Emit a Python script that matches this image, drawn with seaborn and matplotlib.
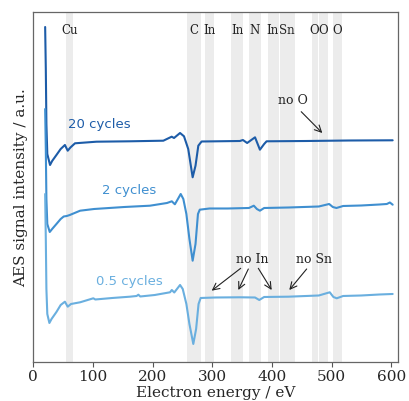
import matplotlib
matplotlib.use("Agg")
import matplotlib.pyplot as plt
import seaborn as sns
import pandas as pd

# ---- data ----
energy_20 = [19.8, 20.9, 21.9, 23.4, 28.0, 31.5, 38.7, 45.8, 52.9, 57.6, 62.1, 69.8, 105.8, 161.8, 217.8,
             231.8, 235.7, 245.8, 252.4, 259.5, 266.9, 271.7, 276.4, 281.9, 346.0, 351.1, 358.2, 371.4,
             379.6, 386.7, 390.8, 457.9, 529.2, 602.0]
signal_20 = [334.7, 292.7, 237.7, 207.7, 196.7, 200.7, 206.7, 212.7, 216.7, 211, 214.2, 218.4, 220, 220.4,
             221, 225, 223.7, 228.7, 225.4, 212.7, 184.4, 196, 216, 220.2, 220.7, 221.7, 218.7, 224.4, 212,
             217.7, 220.4, 220.7, 221.2, 221.4]

energy_2 = [19.8, 20.9, 21.9, 23.4, 27.5, 31.5, 38.7, 45.8, 50.9, 56.0, 61.1, 78.4, 101.8, 152.6, 195.4,
            223.9, 232.0, 237.1, 242.2, 246.9, 251.3, 256.4, 261.5, 266.9, 271.7, 275.8, 278.8, 295.1,
            325.6, 361.2, 369.4, 374.5, 379.6, 386.7, 427.4, 478.3, 495.6, 501.7, 507.8, 519.0, 549.5,
            580.0, 592.2, 597.3, 602.0]
signal_2 = [252.7, 212.7, 162.7, 137.7, 129.7, 132.7, 137.7, 142.7, 145.2, 145.7, 146.7, 151, 152.7, 154.7,
            156, 158.7, 160.4, 157.4, 162.7, 167.7, 162.7, 147.7, 122.7, 101, 117.7, 147.7, 152, 153.2, 153.2,
            153.7, 156, 152.7, 151, 153.7, 154.2, 155.2, 157.7, 154.7, 153.7, 155.7, 156.2, 157.2, 157.7,
            159.2, 157]

energy_05 = [19.8, 20.9, 21.9, 23.4, 26.9, 30.5, 38.7, 45.8, 52.9, 57.6, 63.1, 78.4, 100.5, 103.8, 132.3,
             161.8, 173.0, 176.0, 179.1, 203.5, 229.0, 232.0, 236.1, 245.8, 250.3, 256.4, 261.5, 268.0,
             272.7, 276.8, 280.3, 305.3, 346.0, 371.4, 378.5, 386.7, 427.4, 478.3, 496.6, 502.7, 508.3,
             519.0, 549.5, 580.0, 602.0]
signal_05 = [167.7, 122.7, 72.7, 47.7, 38.7, 42.7, 49.7, 56.7, 60, 55, 57.7, 59.4, 63.4, 62.2, 63.7, 65, 65.7,
             67, 65.2, 66.7, 69.4, 71.7, 69.2, 76.7, 72.7, 57.7, 37.7, 17.7, 32.7, 57.7, 63.7, 64.2, 64.4,
             64.2, 61.7, 64.7, 65, 66.2, 69.4, 64.7, 63.4, 65.7, 66.2, 67.2, 67.7]

series_names = ["20 cycles", "2 cycles", "0.5 cycles"]

band_lo = [53.9, 257.5, 288.0, 330.7, 361.2, 392.8, 413.1, 466.1, 479.3, 501.7]
band_hi = [66.1, 280.9, 302.2, 351.1, 380.6, 411.1, 437.6, 476.2, 493.5, 516.9]

element_labels = ["Cu", "C", "In", "In", "N", "In", "Sn", "O", "O", "O"]
element_pos = [60.0, 269.7, 295.1, 341.5, 371.4, 400.9, 424.3, 471.2, 486.4, 508.8]

xticks = [0, 100, 200, 300, 400, 500, 600]

# ---- style ----
sns.set_theme(style="white")
plt.rcParams["font.family"] = ["DejaVu Serif"]

colors = {"20 cycles": "#1d5ca8", "2 cycles": "#3f8fd0", "0.5 cycles": "#6aafdf"}

frames = []
for name, e, s in zip(series_names, [energy_20, energy_2, energy_05], [signal_20, signal_2, signal_05]):
    frames.append(pd.DataFrame({"energy": e, "signal": s, "series": name}))
df = pd.concat(frames, ignore_index=True)

fig = plt.figure(figsize=(4.09, 4.02), dpi=100)
ax = fig.add_axes([0.0815, 0.0978, 0.8917, 0.8706])

for lo, hi in zip(band_lo, band_hi):
    ax.axvspan(lo, hi, color="#ececec", lw=0, zorder=0)

sns.lineplot(data=df, x="energy", y="signal", hue="series", palette=colors,
             hue_order=series_names, legend=False, lw=1.5, ax=ax, sort=True,
             estimator=None)

ax.set_xlim(0, 611)
ax.set_ylim(0, 350)
ax.set_xticks(xticks)
ax.set_yticks([])
ax.tick_params(axis="x", direction="out", length=3.5, width=0.8, color="#555555",
               labelsize=11, pad=2, bottom=True)
for sp in ax.spines.values():
    sp.set_color("#666666")
    sp.set_linewidth(0.9)
ax.set_xlabel("Electron energy / eV", fontsize=11, labelpad=1)
ax.set_ylabel("AES signal intensity / a.u.", fontsize=11, labelpad=4)

for lab, pos in zip(element_labels, element_pos):
    ax.text(pos, 332, lab, ha="center", va="center", fontsize=8.5, color="#222222")

label_pos = {"20 cycles": (110.4, 237.7), "2 cycles": (160.6, 172), "0.5 cycles": (160.6, 81)}
for name in series_names:
    x, y = label_pos[name]
    ax.text(x, y, name, ha="center", va="center", fontsize=9.5, color=colors[name],
            family="DejaVu Sans")

arrow_kw = dict(arrowstyle="->", color="#222222", lw=0.8, shrinkA=0, shrinkB=0)
ax.text(435.5, 261.7, "no O", ha="center", va="center", fontsize=9, color="#222222")
ax.annotate("", xy=(484.1, 228.7), xytext=(448.8, 250), arrowprops=arrow_kw)

ax.text(367.2, 102.7, "no In", ha="center", va="center", fontsize=9, color="#222222")
ax.annotate("", xy=(298.8, 71), xytext=(347.4, 93.4), arrowprops=arrow_kw)
ax.annotate("", xy=(343.4, 71.7), xytext=(360.2, 92.7), arrowprops=arrow_kw)
ax.annotate("", xy=(399.3, 71.7), xytext=(376.9, 93.4), arrowprops=arrow_kw)

ax.text(470.1, 102.7, "no Sn", ha="center", va="center", fontsize=9, color="#222222")
ax.annotate("", xy=(428.8, 71.7), xytext=(457.9, 92.7), arrowprops=arrow_kw)

fig.savefig("out.png", dpi=100)
